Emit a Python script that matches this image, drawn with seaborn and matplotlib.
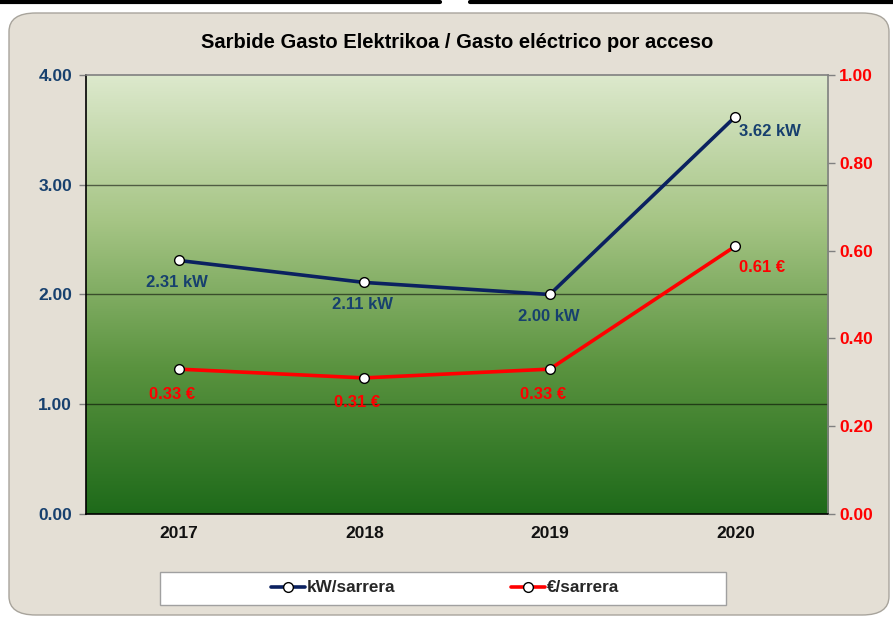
import numpy as np
import pandas as pd
import matplotlib
matplotlib.use("Agg")
import matplotlib.pyplot as plt
import seaborn as sns
from matplotlib.patches import FancyBboxPatch, Rectangle
from matplotlib.colors import LinearSegmentedColormap
from matplotlib.lines import Line2D

years = ["2017", "2018", "2019", "2020"]
kw_values = [2.31, 2.11, 2.00, 3.62]
eur_values = [0.33, 0.31, 0.33, 0.61]
kw_labels = ["2.31 kW", "2.11 kW", "2.00 kW", "3.62 kW"]
eur_labels = ["0.33 €", "0.31 €", "0.33 €", "0.61 €"]
left_ticks = [0, 1, 2, 3, 4]
right_ticks = [0, 0.2, 0.4, 0.6, 0.8, 1.0]

sns.set_style("white")
plt.rcParams['font.family'] = ['Liberation Sans', 'DejaVu Sans']
plt.rcParams['font.weight'] = 'bold'

navy = "#0b2160"
navy_txt = "#17406e"
red = "#ff0000"

df = pd.DataFrame({"pos": range(len(years)), "kw": kw_values, "eur": eur_values})

fig = plt.figure(figsize=(8.93, 6.19), dpi=100)
fig.patch.set_facecolor("white")

# beige rounded background
bg = FancyBboxPatch((9 / 893, 4 / 619), 880 / 893, 602 / 619,
                    boxstyle="round,pad=0,rounding_size=0.03",
                    transform=fig.transFigure, facecolor="#e4dfd5",
                    edgecolor="#a8a49c", linewidth=1.0, zorder=-10)
fig.patches.append(bg)
# black strip at the top edge
fig.add_artist(Line2D([0, 440 / 893], [0.997, 0.997], color="black", lw=3, transform=fig.transFigure))
fig.add_artist(Line2D([470 / 893, 1], [0.997, 0.997], color="black", lw=3, transform=fig.transFigure))

ax = fig.add_axes([86 / 893, 105 / 619, 742 / 893, 439 / 619])
ax.set_facecolor("none")
ax.set_zorder(1)

# green gradient
cmap = LinearSegmentedColormap.from_list("g", ["#1e6a1a", "#5a933f", "#a6c585", "#dde9cd"])
grad = np.linspace(0, 1, 256).reshape(-1, 1)
ax.imshow(grad, cmap=cmap, origin="lower", aspect="auto", extent=[0, 1, 0, 1],
          transform=ax.transAxes, zorder=0)

for yv in [1, 2, 3]:
    ax.axhline(yv, color="black", alpha=0.55, lw=1.0, zorder=1)

sns.lineplot(data=df, x="pos", y="kw", ax=ax, color=navy, lw=2.6, marker="o",
             markersize=7, markerfacecolor="white", markeredgecolor="black",
             markeredgewidth=1.0, zorder=3)

ax.set_xlim(-0.5, 3.5)
ax.set_ylim(0, 4)
ax.set_yticks(left_ticks)
ax.set_yticklabels([f"{v:.2f}" for v in left_ticks], color=navy_txt, fontsize=12.5, fontweight="bold")
ax.set_xticks([i - 0.5 for i in range(len(years) + 1)])
ax.set_xticklabels([])
ax.set_xticks(range(len(years)), minor=True)
ax.set_xticklabels(years, minor=True, fontsize=12.5, fontweight="bold", color="#111111")
ax.tick_params(axis="x", which="major", direction="out", length=5, color="#808080", width=1)
ax.tick_params(axis="x", which="minor", length=0, pad=9)
ax.tick_params(axis="y", direction="out", length=5, color="#808080", width=1, pad=5)
ax.set_xlabel("")
ax.set_ylabel("")

for s in ["top", "right"]:
    ax.spines[s].set_color("#808080")
    ax.spines[s].set_linewidth(1.2)
ax.spines["left"].set_color("black")
ax.spines["bottom"].set_color("black")
ax.spines["left"].set_linewidth(1.2)
ax.spines["bottom"].set_linewidth(1.2)

ax2 = ax.twinx()
sns.lineplot(data=df, x="pos", y="eur", ax=ax2, color=red, lw=2.6, marker="o",
             markersize=7, markerfacecolor="white", markeredgecolor="black",
             markeredgewidth=1.0, zorder=3)
ax2.set_ylim(0, 1)
ax2.set_yticks(right_ticks)
ax2.set_yticklabels([f"{v:.2f}" for v in right_ticks], color=red, fontsize=12.5, fontweight="bold")
ax2.tick_params(axis="y", direction="out", length=5, color="#808080", width=1, pad=3)
ax2.set_ylabel("")
for s in ax2.spines.values():
    s.set_visible(False)

for i, (v, t) in enumerate(zip(kw_values, kw_labels)):
    if i == len(years) - 1:
        ax.annotate(t, (i, v), xytext=(3, -11), textcoords="offset points",
                    ha="left", va="center", color=navy_txt, fontsize=12, fontweight="bold")
    else:
        ax.annotate(t, (i, v), xytext=(-1, -16), textcoords="offset points",
                    ha="center", va="center", color=navy_txt, fontsize=12, fontweight="bold")
for i, (v, t) in enumerate(zip(eur_values, eur_labels)):
    if i == len(years) - 1:
        ax2.annotate(t, (i, v), xytext=(3, -15), textcoords="offset points",
                     ha="left", va="center", color=red, fontsize=12, fontweight="bold")
    else:
        ax2.annotate(t, (i, v), xytext=(-5, -18), textcoords="offset points",
                     ha="center", va="center", color=red, fontsize=12, fontweight="bold")

fig.text(457 / 893, 1 - 42 / 619, "Sarbide Gasto Elektrikoa / Gasto eléctrico por acceso",
         ha="center", va="center", fontsize=14.5, fontweight="bold", color="black")

# legend box
fig.patches.append(Rectangle((160 / 893, 14 / 619), 566 / 893, 33 / 619, transform=fig.transFigure,
                             facecolor="white", edgecolor="#a0a0a0", lw=1.0, zorder=1))
handles = [
    Line2D([], [], color=navy, lw=2.6, marker="o", markersize=7, markerfacecolor="white",
           markeredgecolor="black"),
    Line2D([], [], color=red, lw=2.6, marker="o", markersize=7, markerfacecolor="white",
           markeredgecolor="black"),
]
leg = fig.legend(handles, ["kW/sarrera", "€/sarrera"], loc="center", ncol=2,
                 bbox_to_anchor=(445 / 893, 1 - 588 / 619), frameon=False,
                 prop={"size": 12.3, "weight": "bold"}, handlelength=2.0,
                 handletextpad=0.1, columnspacing=6.8)
leg.set_zorder(2)

fig.savefig("out.png", dpi=100, facecolor=fig.get_facecolor())
